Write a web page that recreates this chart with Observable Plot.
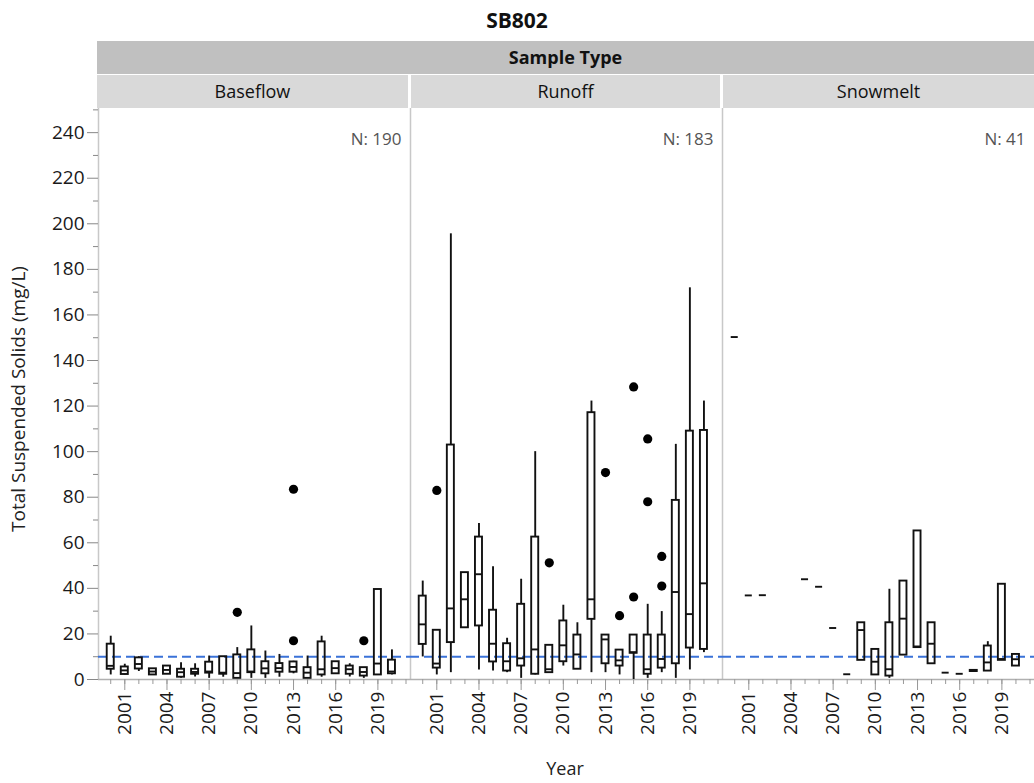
<!DOCTYPE html>
<html>
<head>
<meta charset="utf-8">
<script src="https://cdn.jsdelivr.net/npm/d3@7"></script>
<script src="https://cdn.jsdelivr.net/npm/@observablehq/plot@0.6"></script>
<style>
  body { margin: 0; background: #fff; font-family: "Open Sans", "Noto Sans", sans-serif; }
  #wrap { position: relative; width: 1034px; height: 783px; overflow: hidden; background: #fff; }
  #title { position: absolute; left: 0; top: 5px; width: 1034px; text-align: center; font-weight: bold; font-size: 21px; line-height: 30px; color: #111; }
  #group { position: absolute; left: 97px; top: 41px; width: 937px; height: 33px; background: #c0c0c0; text-align: center; font-weight: bold; font-size: 18px; line-height: 33px; color: #111; }
  .panel { position: absolute; top: 75px; height: 33px; background: #d9d9d9; text-align: center; font-size: 18px; line-height: 33px; color: #111; }
  #chart { position: absolute; left: 0; top: 108px; }
  #ylab { position: absolute; left: -132px; top: 386px; width: 300px; text-align: center; font-size: 19px; line-height: 26px; color: #222; transform: rotate(-90deg); }
  #xlab { position: absolute; left: 465px; top: 754px; width: 200px; text-align: center; font-size: 18px; line-height: 28px; color: #222; }
</style>
</head>
<body>
<div id="wrap">
  <div id="title">SB802</div>
  <div id="group">Sample Type</div>
  <div id="panels"></div>
  <div id="chart"></div>
  <div id="ylab">Total Suspended Solids (mg/L)</div>
  <div id="xlab">Year</div>
</div>
<script>
// ---------- data ----------
const sampleTypes = ["Baseflow", "Runoff", "Snowmelt"];
const sampleCounts = [190, 183, 41];
const referenceLevel = [10];
const yTickValues = [0, 20, 40, 60, 80, 100, 120, 140, 160, 180, 200, 220, 240];
const yMinorTickValues = [10, 30, 50, 70, 90, 110, 130, 150, 170, 190, 210, 230, 250];
const xTickYears = [2001, 2004, 2007, 2010, 2013, 2016, 2019];
const xMinorTickYears = [2000, 2001, 2002, 2003, 2004, 2005, 2006, 2007, 2008, 2009, 2010, 2011, 2012, 2013, 2014, 2015, 2016, 2017, 2018, 2019, 2020, 2021];

// Baseflow
const bfYears  = [2000, 2001, 2002, 2003, 2004, 2005, 2006, 2007, 2008, 2009, 2010, 2011, 2012, 2013, 2014, 2015, 2016, 2017, 2018, 2019, 2020];
const bfMin    = [2,    2,    3.5,  2,    2.2,  0.5,  1.1,  0.5,  1,    0.5,  0.5,  0.5,  1,    2.5,  0.5,  1,    2.5,  1.1,  0.5,  2,    2];
const bfQ1     = [4.5,  2.2,  4.6,  2,    2.3,  1,    2.3,  2.8,  2.3,  0.5,  3,    2.5,  3.2,  3.2,  0.5,  2,    2.5,  2.3,  1.5,  2,    2.5];
const bfMedian = [6,    4,    6.8,  3.5,  4.2,  3.2,  3.3,  3.5,  3,    2.8,  3.5,  4.9,  5,    5.5,  3,    4.5,  5,    4.5,  3.3,  7,    3.5];
const bfQ3     = [15.5, 5.5,  9.5,  4.7,  5.9,  4.5,  4.5,  7.6,  10,   10.8, 13,   7.8,  7,    7.7,  5.2,  16.5, 7.8,  5.9,  5.2,  39.5, 8.5];
const bfMax    = [19,   6.7,  10,   4.7,  6,    7.4,  6.9,  10.3, 10,   14,   23.5, 12.5, 11,   8,    10.3, 19,   7.8,  6.9,  5.2,  39.5, 13];
const bfOutYears  = [2009, 2013, 2013, 2018];
const bfOutValues = [29.5, 83.5, 17,   17];

// Runoff
const roYears  = [2000, 2001, 2002,  2003, 2004, 2005, 2006, 2007, 2008, 2009, 2010, 2011, 2012,  2013, 2014, 2015, 2016, 2017, 2018,  2019,  2020];
const roMin    = [9.9,  2,    3,     22.7, 4.2,  3.7,  3,    0.5,  2,    3,    5.9,  4.5,  3,     3,    2,    0,    0.5,  3,    0.5,   4.2,   11.8];
const roQ1     = [15.4, 5,    16.2,  22.7, 23.5, 7.7,  3.7,  5.9,  2.3,  3,    7.8,  4.5,  26.4,  6.9,  5.9,  11.5, 2.3,  5,    6.9,   13.8,  13.2];
const roMedian = [24.2, 7,    31.2,  35.2, 46.2, 15.7, 8,    9.3,  13.2, 4.5,  15,   11,   35.2,  17.6, 8.4,  12,   4.5,  9,    38.4,  28.7,  42.2];
const roQ3     = [36.6, 21.6, 102.9, 46.9, 62.5, 30.4, 15.7, 33,   62.5, 15,   25.7, 19.5, 117.1, 19.5, 12.9, 19.5, 19.5, 19.5, 78.6,  109,   109.3];
const roMax    = [43.2, 21.6, 195.6, 46.9, 68.5, 49.5, 18.1, 44,   100,  15,   32.6, 24.9, 122.2, 19.5, 12.9, 19.5, 33,   29.8, 103.2, 171.9, 122.2];
const roOutYears  = [2001, 2009, 2013, 2014, 2015,  2015, 2016,  2016, 2017, 2017];
const roOutValues = [83,   51.2, 90.8, 28,   128.4, 36.2, 105.6, 78,   54,   41];

// Snowmelt
const smYears  = [2000,  2001, 2002, 2005, 2006, 2007, 2008, 2009, 2010, 2011, 2012, 2013, 2014, 2015, 2016, 2017, 2018, 2019, 2020];
const smMin    = [150.3, 36.9, 37,   44,   40.7, 22.6, 2.3,  8.4,  2,    0.5,  10.7, 14,   6.9,  3,    2.5,  3.5,  3.5,  8.4,  5.9];
const smQ1     = [150.3, 36.9, 37,   44,   40.7, 22.6, 2.3,  8.4,  2,    1.5,  10.7, 14,   6.9,  3,    2.5,  3.5,  3.7,  8.4,  5.9];
const smMedian = [150.3, 36.9, 37,   44,   40.7, 22.6, 2.3,  21.7, 7.8,  4.5,  26.7, 14.5, 15.7, 3,    2.5,  3.8,  7.5,  9,    8.9];
const smQ3     = [150.3, 36.9, 37,   44,   40.7, 22.6, 2.3,  24.9, 13.2, 24.9, 43.2, 65.2, 24.9, 3,    2.5,  4,    14.7, 41.8, 11];
const smMax    = [150.3, 36.9, 37,   44,   40.7, 22.6, 2.3,  24.9, 13.2, 39.6, 43.2, 65.2, 24.9, 3,    2.5,  4,    16.6, 41.8, 11];

// ---------- tables built from the arrays ----------
function boxRows(type, years, mins, q1s, meds, q3s, maxs) {
  return years.map((year, i) => ({type, year, min: mins[i], q1: q1s[i], med: meds[i], q3: q3s[i], max: maxs[i]}));
}
const boxes = [
  ...boxRows("Baseflow", bfYears, bfMin, bfQ1, bfMedian, bfQ3, bfMax),
  ...boxRows("Runoff", roYears, roMin, roQ1, roMedian, roQ3, roMax),
  ...boxRows("Snowmelt", smYears, smMin, smQ1, smMedian, smQ3, smMax)
];
const outliers = [
  ...bfOutYears.map((year, i) => ({type: "Baseflow", year, value: bfOutValues[i]})),
  ...roOutYears.map((year, i) => ({type: "Runoff", year, value: roOutValues[i]}))
];
const counts = sampleTypes.map((type, i) => ({type, n: sampleCounts[i]}));

// ---------- header cells ----------
const panelsDiv = document.getElementById("panels");
const plotLeft = 97, plotWidth = 937;
sampleTypes.forEach((t, i) => {
  const d = document.createElement("div");
  d.className = "panel";
  const w = plotWidth / sampleTypes.length;
  d.style.left = (plotLeft + i * w + (i > 0 ? 1.5 : 0)) + "px";
  d.style.width = (w - (i > 0 ? 1.5 : 0) - (i < sampleTypes.length - 1 ? 1.5 : 0)) + "px";
  d.textContent = t;
  panelsDiv.appendChild(d);
});

// ---------- chart ----------
const halfW = 0.25;
const xDomain = [1999.13, 2021.32];
const ink = "#111";
const sw = 1.9;
const chart = Plot.plot({
  width: 1034,
  height: 642,
  marginLeft: 97,
  marginRight: 0,
  marginTop: 0,
  marginBottom: 71,
  x: {domain: xDomain},
  y: {domain: [0, 250.6]},
  fx: {domain: sampleTypes, padding: 0, axis: null},
  style: {fontFamily: "'Open Sans', 'Noto Sans', sans-serif", fontSize: "19px", color: "#1a1a1a", background: "white", overflow: "visible"},
  marks: [
    // panel separators / y axis line and x axis line
    Plot.ruleX([xDomain[0]], {stroke: "#c8c8c8", strokeWidth: 1.5}),
    Plot.ruleY([0], {stroke: "#b0b0b0", strokeWidth: 1.5}),
    // axes
    Plot.axisY({ticks: yMinorTickValues, tickSize: 5, tickFormat: () => "", label: null, stroke: "#888"}),
    Plot.axisY({ticks: yTickValues, tickSize: 11, tickPadding: 3, tickFormat: d => String(d), label: null, stroke: "#888", fill: "#1a1a1a"}),
    Plot.axisX({ticks: xMinorTickYears, tickSize: 5, tickFormat: () => "", label: null, stroke: "#999"}),
    Plot.axisX({ticks: xTickYears, tickSize: 11, tickPadding: 1, tickRotate: -90, tickFormat: d => String(d), label: null, stroke: "#999", fill: "#1a1a1a"}),
    // reference line
    Plot.ruleY(referenceLevel, {stroke: "#3a72d8", strokeWidth: 2, strokeDasharray: "9,5"}),
    // whiskers
    Plot.ruleX(boxes, {fx: "type", x: "year", y1: "min", y2: "q1", stroke: ink, strokeWidth: sw}),
    Plot.ruleX(boxes, {fx: "type", x: "year", y1: "q3", y2: "max", stroke: ink, strokeWidth: sw}),
    // boxes
    Plot.rect(boxes, {fx: "type", x1: d => d.year - halfW, x2: d => d.year + halfW, y1: "q1", y2: "q3", fill: "none", stroke: ink, strokeWidth: sw}),
    // medians
    Plot.ruleY(boxes, {fx: "type", y: "med", x1: d => d.year - halfW, x2: d => d.year + halfW, stroke: ink, strokeWidth: sw}),
    // outliers
    Plot.dot(outliers, {fx: "type", x: "year", y: "value", r: 4.6, fill: "#000", stroke: "none"}),
    // counts
    Plot.text(counts, {fx: "type", text: d => "N: " + d.n, frameAnchor: "top-right", dx: -9, dy: 24, fill: "#555", fontSize: 17})
  ]
});
document.getElementById("chart").appendChild(chart);
</script>
</body>
</html>
